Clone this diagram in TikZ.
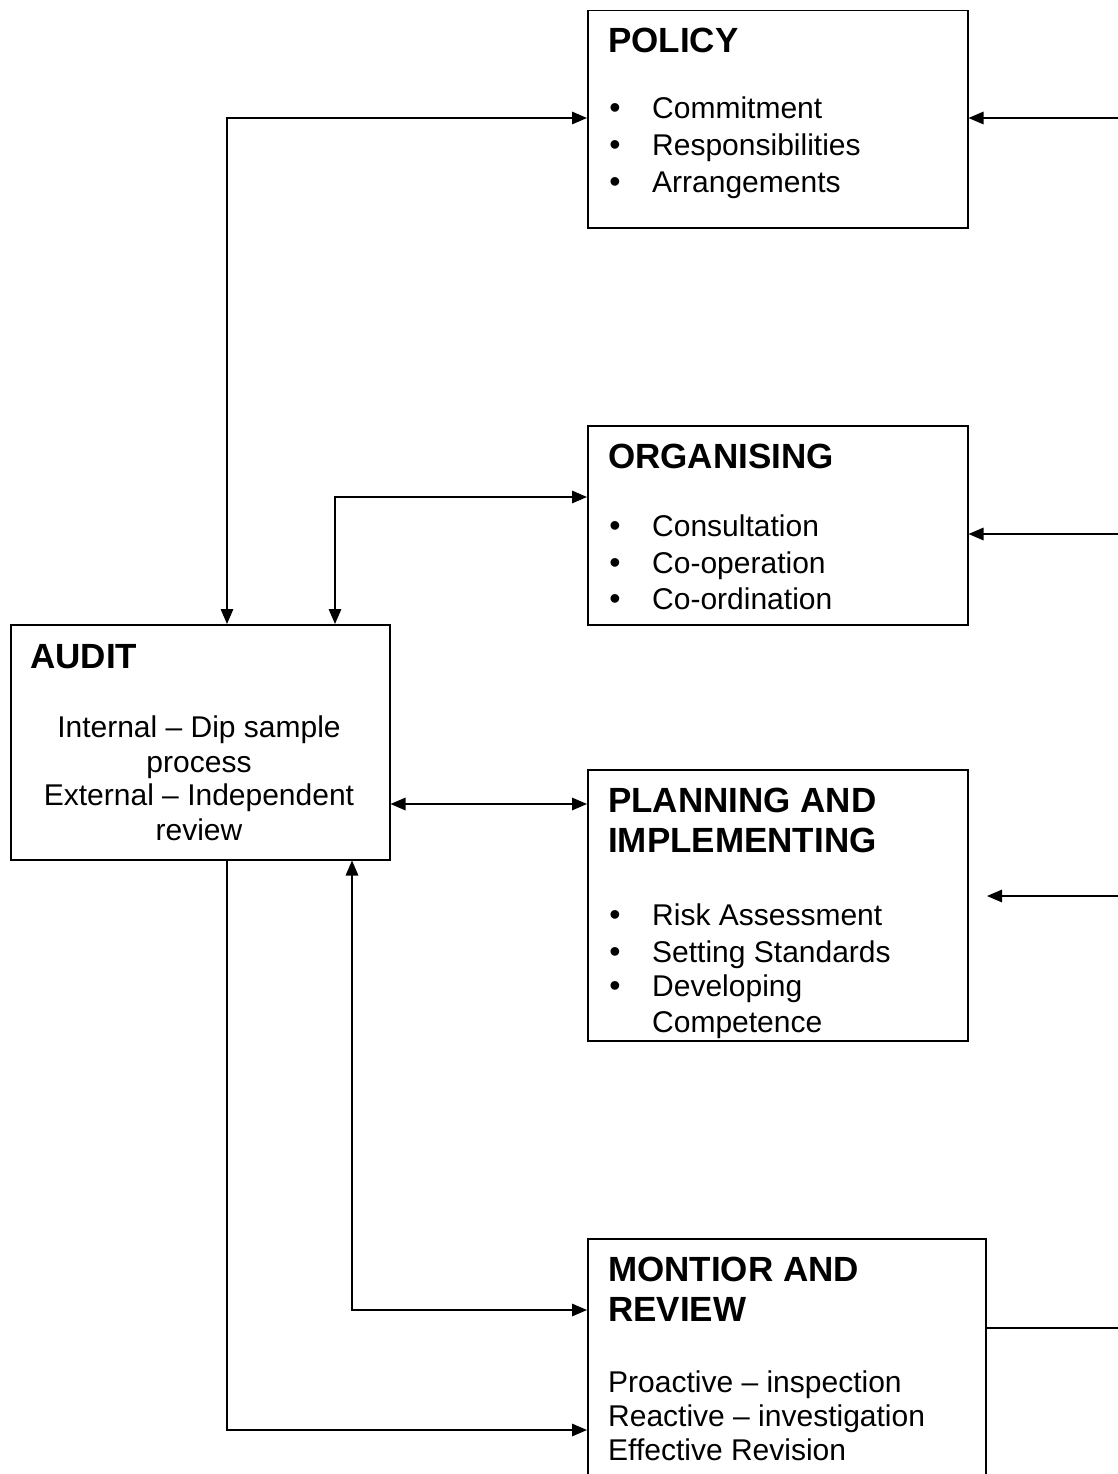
\documentclass[tikz,border=0pt]{standalone}
\usepackage{fontspec}
\setmainfont{Liberation Sans}
\usetikzlibrary{arrows.meta}
\tikzset{
  box/.style={draw, line width=1.5pt, anchor=north west, inner sep=0pt, fill=white},
  conn/.style={line width=1.5pt},
  tipend/.style={conn, -{Triangle[length=15pt,width=12.5pt]}},
  tipboth/.style={conn, {Triangle[length=15pt,width=12.5pt]}-{Triangle[length=15pt,width=12.5pt]}},
  ttl/.style={anchor=base west, inner sep=0pt, font=\fontsize{35}{40}\selectfont\bfseries},
  txt/.style={anchor=base west, inner sep=0pt, font=\fontsize{30}{36}\selectfont},
  ctxt/.style={anchor=base, inner sep=0pt, font=\fontsize{30}{36}\selectfont},
  bul/.style={anchor=base, inner sep=0pt, font=\fontsize{32}{36}\selectfont},
}
\begin{document}
\begin{tikzpicture}[x=1pt,y=-1pt]
\useasboundingbox (0,0) rectangle (1118,1474);
\clip (0,0) rectangle (1118,1474);
\fill[white] (0,0) rectangle (1118,1474);

% boxes
\node[box, minimum width=380, minimum height=217] (policy) at (587,10) {};
\node[box, minimum width=380, minimum height=199] (organising) at (587,425) {};
\node[box, minimum width=379, minimum height=235] (audit) at (10,624) {};
\node[box, minimum width=380, minimum height=271] (planning) at (587,769) {};
\node[box, minimum width=398, minimum height=300] (montior) at (587,1238) {};

% POLICY text
\node[ttl] (tpol) at (608,53) {POLICY};
\node[bul] (bp1) at (615,119) {•};
\node[txt] (p1) at (652,119) {Commitment};
\node[bul] (bp2) at (615,156) {•};
\node[txt] (p2) at (652,156) {Responsibilities};
\node[bul] (bp3) at (615,193) {•};
\node[txt] (p3) at (652,193) {Arrangements};

% ORGANISING text
\node[ttl] (torg) at (608,468) {ORGANISING};
\node[bul] (bo1) at (615,536) {•};
\node[txt] (o1) at (652,536) {Consultation};
\node[bul] (bo2) at (615,573) {•};
\node[txt] (o2) at (652,573) {Co-operation};
\node[bul] (bo3) at (615,609) {•};
\node[txt] (o3) at (652,609) {Co-ordination};

% AUDIT text
\node[ttl] (taud) at (30,668) {AUDIT};
\node[ctxt] (a1) at (199,737) {Internal – Dip sample};
\node[ctxt] (a2) at (199,772) {process};
\node[ctxt] (a3) at (199,805) {External – Independent};
\node[ctxt] (a4) at (199,840) {review};

% PLANNING text
\begin{scope}
\clip (587,769) rectangle (967,1039);
\node[ttl] (tpl1) at (608,812) {PLANNING AND};
\node[ttl] (tpl2) at (608,852) {IMPLEMENTING};
\node[bul] (bl1) at (615,925) {•};
\node[txt] (l1) at (652,925) {Risk Assessment};
\node[bul] (bl2) at (615,962) {•};
\node[txt] (l2) at (652,962) {Setting Standards};
\node[bul] (bl3) at (615,996) {•};
\node[txt] (l3) at (652,996) {Developing};
\node[txt] (l4) at (652,1032) {Competence};
\end{scope}

% MONTIOR text
\node[ttl] (tmo1) at (608,1281) {MONTIOR AND};
\node[ttl] (tmo2) at (608,1321) {REVIEW};
\node[txt] (m1) at (608,1392) {Proactive – inspection};
\node[txt] (m2) at (608,1426) {Reactive – investigation};
\node[txt] (m3) at (608,1460) {Effective Revision};

% left connectors
\coordinate (c1) at (227,118);
\draw[tipboth] (c1 |- audit.north) -- (c1) -- (c1 -| policy.west);
\coordinate (c2) at (335,497);
\draw[tipboth] (c2 |- audit.north) -- (c2) -- (c2 -| organising.west);
\coordinate (c3) at (0,804);
\draw[tipboth] (c3 -| audit.east) -- (c3 -| planning.west);
\coordinate (c5) at (352,1310);
\draw[tipboth] (c5 |- audit.south) -- (c5) -- (c5 -| montior.west);
\coordinate (c4) at (227,1430);
\draw[tipend] (c4 |- audit.south) -- (c4) -- (c4 -| montior.west);

% right connectors
\coordinate (r1) at (1118,118);
\draw[tipend] (r1) -- (r1 -| policy.east);
\coordinate (r2) at (1118,534);
\draw[tipend] (r2) -- (r2 -| organising.east);
\coordinate (r3) at (1118,896);
\coordinate (r3e) at (987,896);
\draw[tipend] (r3) -- (r3e);
\coordinate (r4) at (1118,1328);
\draw[conn] (r4 -| montior.east) -- (r4);
\end{tikzpicture}
\end{document}
